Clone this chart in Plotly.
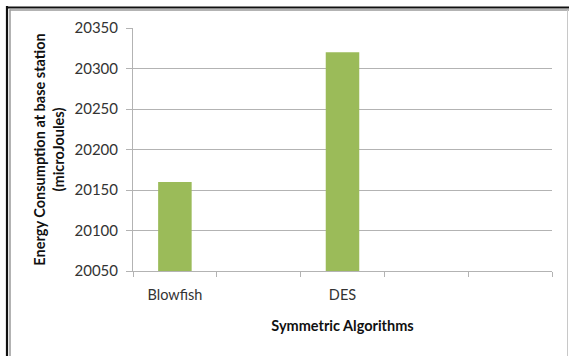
import plotly.graph_objects as go

# Energy used at the base station per symmetric cipher
categories = ["Blowfish", " ", "DES", "  ", "   "]
energy = [20160, None, 20320, None, None]
y_ticks = [20050, 20100, 20150, 20200, 20250, 20300, 20350]

W, H = 569, 356
L, R, T, B = 133, 17, 28, 85
PW, PH = W - L - R, H - T - B


def px_x(p):
    return (p - L) / PW


def px_y(p):
    return (H - B - p) / PH


FONT = "Lato, Calibri, Carlito, sans-serif"
GRID = "#b3b3b3"

fig = go.Figure(
    go.Bar(
        x=categories,
        y=energy,
        marker=dict(color="#9BBB59", line=dict(width=0)),
        width=0.4,
        hoverinfo="x+y",
    )
)

# window frame around the chart
frame = [
    (px_x(6), px_y(7.5), px_x(W + 2), px_y(7.5), "#111111", 2.2),
    (px_x(7), px_y(6), px_x(7), px_y(H + 2), "#111111", 2.2),
    (px_x(9.5), px_y(10), px_x(W + 2), px_y(10), "#9a9a9a", 1.5),
    (px_x(10), px_y(9.5), px_x(10), px_y(H + 2), "#9a9a9a", 1.5),
    (px_x(567.5), px_y(10), px_x(567.5), px_y(H + 2), "#c8c8c8", 1),
]
shapes = [
    dict(type="line", xref="paper", yref="paper", x0=a, y0=b, x1=c, y1=d,
         line=dict(color=col, width=w), layer="above")
    for a, b, c, d, col, w in frame
]

fig.update_layout(
    width=W,
    height=H,
    margin=dict(l=L, r=R, t=T, b=B, pad=0),
    paper_bgcolor="white",
    plot_bgcolor="white",
    showlegend=False,
    bargap=0.6,
    font=dict(family=FONT, color="#222222"),
    shapes=shapes,
    xaxis=dict(
        type="category",
        categoryorder="array",
        categoryarray=categories,
        tickson="boundaries",
        ticks="outside",
        ticklen=5,
        tickcolor=GRID,
        tickwidth=1,
        ticklabelstandoff=11,
        showline=True,
        linecolor=GRID,
        linewidth=1,
        showgrid=False,
        tickfont=dict(size=14.5, family=FONT, color="#333333"),
        title=dict(text="<b>Symmetric Algorithms</b>",
                   font=dict(size=14.5, family=FONT, color="#111111"),
                   standoff=18),
    ),
    yaxis=dict(
        range=[20050, 20350],
        tickvals=y_ticks,
        ticktext=[str(v) for v in y_ticks],
        ticks="outside",
        ticklen=6,
        tickcolor=GRID,
        tickwidth=1,
        ticklabelstandoff=5,
        showline=True,
        linecolor=GRID,
        linewidth=1,
        showgrid=True,
        gridcolor=GRID,
        gridwidth=1,
        zeroline=False,
        tickfont=dict(size=15, family=FONT, color="#333333"),
        title=dict(text="<b>Energy Consumption at base station<br>(microJoules)</b>",
                   font=dict(size=14.5, family=FONT, color="#111111"),
                   standoff=6),
    ),
)

fig.write_html("out.html")
